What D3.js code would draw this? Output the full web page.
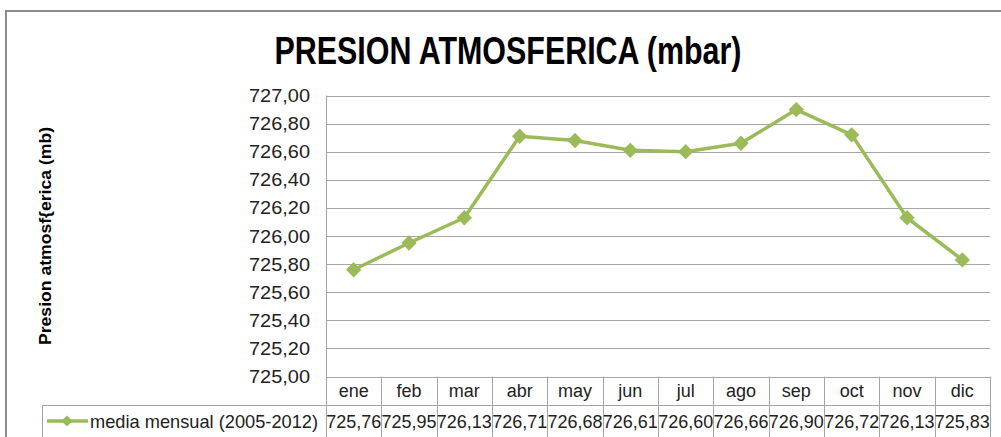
<!DOCTYPE html>
<html>
<head>
<meta charset="utf-8">
<script src="https://cdn.jsdelivr.net/npm/d3@7"></script>
<style>
  body { margin: 0; background: #fff; }
  svg { display: block; font-family: "Liberation Sans Narrow", "Liberation Sans", sans-serif; }
</style>
</head>
<body>
<script>
// chart data
const months = ["ene","feb","mar","abr","may","jun","jul","ago","sep","oct","nov","dic"];
const mediaMensual = [725.76,725.95,726.13,726.71,726.68,726.61,726.60,726.66,726.90,726.72,726.13,725.83];
const yTicks = [725.0,725.2,725.4,725.6,725.8,726.0,726.2,726.4,726.6,726.8,727.0];
const seriesName = "media mensual (2005-2012)";
const chartTitle = "PRESION ATMOSFERICA (mbar)";
const yTitle = "Presion atmosf{erica (mb)";

const green = "#9bbb59", grid = "#a6a6a6";
const fmt = v => v.toFixed(2).replace(".", ",");

const svg = d3.select("body").append("svg").attr("width",1001).attr("height",437);

// outer frame
svg.append("path").attr("d","M6,437V11H1001").attr("fill","none").attr("stroke","#8c8c8c").attr("stroke-width",2);

const plotL = 326, plotR = 990, plotT = 95.5, plotB = 376.5;
const x = d3.scaleBand().domain(months).range([plotL,plotR]);
const y = d3.scaleLinear().domain([725,727]).range([plotB,plotT]);

// grid lines
svg.append("g").selectAll("line").data(yTicks).join("line")
  .attr("x1",plotL).attr("x2",plotR)
  .attr("y1",d=>Math.round(y(d))+0.5).attr("y2",d=>Math.round(y(d))+0.5)
  .attr("stroke",grid).attr("stroke-width",1);

// y axis
const yAxis = d3.axisLeft(y).tickValues(yTicks).tickFormat(fmt).tickSize(0).tickPadding(16);
const ya = svg.append("g").attr("transform",`translate(${plotL},0)`).call(yAxis);
ya.select(".domain").remove();
ya.selectAll("text").attr("font-size",19).attr("fill","#222")
  .attr("font-family","'Liberation Sans Narrow', 'Liberation Sans', sans-serif")
  .attr("textLength",61).attr("lengthAdjust","spacingAndGlyphs");

// axis line
svg.append("line").attr("x1",plotL+0.5).attr("x2",plotL+0.5).attr("y1",plotT).attr("y2",437)
  .attr("stroke",grid);

// data table
const tb = svg.append("g").attr("stroke",grid).attr("fill","none");
tb.append("line").attr("x1",42).attr("x2",plotR).attr("y1",405.5).attr("y2",405.5);
tb.append("line").attr("x1",42.5).attr("x2",42.5).attr("y1",405).attr("y2",437);
tb.append("line").attr("x1",plotR+0.5).attr("x2",plotR+0.5).attr("y1",plotB).attr("y2",437);
tb.selectAll(".col").data(months.slice(1)).join("line").attr("class","col")
  .attr("x1",d=>Math.round(x(d))+0.5).attr("x2",d=>Math.round(x(d))+0.5)
  .attr("y1",plotB).attr("y2",437);

svg.append("g").selectAll("text").data(months).join("text")
  .attr("x",d=>x(d)+x.bandwidth()/2).attr("y",397)
  .attr("text-anchor","middle").attr("font-size",18).attr("fill","#222")
  .text(d=>d);

svg.append("g").selectAll("text").data(mediaMensual).join("text")
  .attr("x",(d,i)=>x(months[i])+x.bandwidth()/2).attr("y",428)
  .attr("text-anchor","middle").attr("font-size",19).attr("fill","#222")
  .attr("textLength",55).attr("lengthAdjust","spacingAndGlyphs")
  .text(fmt);

// legend key
const diamond = d3.symbol().type(d3.symbolDiamond2).size(150);
svg.append("line").attr("x1",47).attr("x2",88).attr("y1",421).attr("y2",421)
  .attr("stroke",green).attr("stroke-width",3.5);
svg.append("path").attr("d",d3.symbol().type(d3.symbolDiamond2).size(80)())
  .attr("transform","translate(67,421)").attr("fill",green);
svg.append("text").attr("x",90).attr("y",428).attr("font-size",19).attr("fill","#222")
  .attr("textLength",228).attr("lengthAdjust","spacingAndGlyphs")
  .text(seriesName);

// series line
const line = d3.line().x((d,i)=>x(months[i])+x.bandwidth()/2).y(d=>y(d));
svg.append("path").datum(mediaMensual).attr("d",line)
  .attr("fill","none").attr("stroke",green).attr("stroke-width",3.5).attr("stroke-linejoin","round");
svg.append("g").selectAll("path").data(mediaMensual).join("path")
  .attr("d",diamond)
  .attr("transform",(d,i)=>`translate(${x(months[i])+x.bandwidth()/2},${y(d)})`)
  .attr("fill",green);

// titles
svg.append("text").attr("x",508).attr("y",64).attr("text-anchor","middle")
  .attr("font-size",38).attr("font-weight","bold").attr("fill","#000")
  .attr("textLength",467).attr("lengthAdjust","spacingAndGlyphs")
  .text(chartTitle);

svg.append("text").attr("transform","translate(51,236) rotate(-90)")
  .attr("text-anchor","middle").attr("font-size",17).attr("font-weight","bold").attr("fill","#000")
  .attr("textLength",218).attr("lengthAdjust","spacingAndGlyphs")
  .text(yTitle);
</script>
</body>
</html>
